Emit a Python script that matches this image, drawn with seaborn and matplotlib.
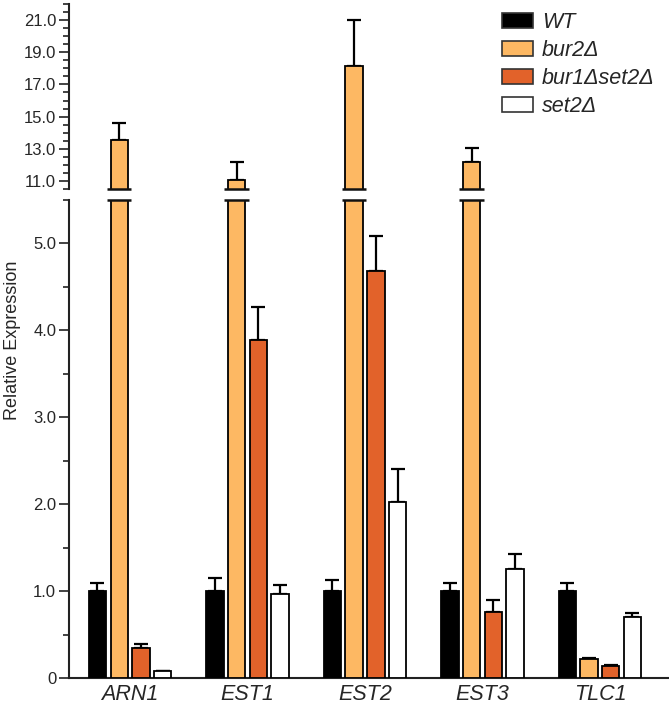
import numpy as np
import pandas as pd
import matplotlib
matplotlib.use("Agg")
import matplotlib.pyplot as plt
from matplotlib.patches import Patch
from matplotlib.ticker import MultipleLocator, FixedLocator, FixedFormatter
import seaborn as sns

# ---------------- data ----------------
genes = ["ARN1", "EST1", "EST2", "EST3", "TLC1"]
strains = ["WT", "bur2Δ", "bur1Δset2Δ", "set2Δ"]
wt_vals = [1.0, 1.0, 1.0, 1.0, 1.0]
wt_err = [0.09, 0.15, 0.13, 0.09, 0.09]
bur2_vals = [13.55, 11.05, 18.15, 12.15, 0.22]
bur2_err = [1.07, 1.10, 2.85, 0.90, 0.01]
bur1set2_vals = [0.35, 3.89, 4.68, 0.76, 0.14]
bur1set2_err = [0.04, 0.38, 0.41, 0.14, 0.01]
set2_vals = [0.08, 0.97, 2.02, 1.25, 0.70]
set2_err = [0.005, 0.10, 0.39, 0.18, 0.05]
colors = ["#000000", "#FDB863", "#E2622A", "#FFFFFF"]

upper_ticks = [11.0, 13.0, 15.0, 17.0, 19.0, 21.0]
lower_ticks = [0, 1.0, 2.0, 3.0, 4.0, 5.0]
lower_lim = (0, 5.5)
upper_lim = (10.5, 22.0)

vals = [wt_vals, bur2_vals, bur1set2_vals, set2_vals]
errs = [wt_err, bur2_err, bur1set2_err, set2_err]
rows = []
for s, v, e in zip(strains, vals, errs):
    for g, vv, ee in zip(genes, v, e):
        rows.append({"gene": g, "strain": s, "value": vv, "err": ee})
df = pd.DataFrame(rows)

# ---------------- style ----------------
sns.set_style("ticks")
plt.rcParams["font.family"] = ["Liberation Sans", "DejaVu Sans"]
spine_c = "#222222"

W, H = 669, 705
fig = plt.figure(figsize=(W / 100, H / 100), dpi=100)
ax_top = fig.add_axes([69 / W, 1 - 189 / H, 599 / W, 185 / H])
ax_bot = fig.add_axes([69 / W, 27 / H, 599 / W, 478 / H])

palette = dict(zip(strains, colors))
for ax in (ax_top, ax_bot):
    sns.barplot(data=df, x="gene", y="value", hue="strain", order=genes,
                hue_order=strains, palette=palette, saturation=1,
                width=0.74, gap=0.2,
                edgecolor="black", linewidth=1.3, errorbar=None, legend=False,
                ax=ax, zorder=3)
    ax.set_xlim(-0.52, 4.58)

ax_bot.set_ylim(*lower_lim)
ax_top.set_ylim(*upper_lim)

# error bars and break marks, placed from the drawn bars
for cont, e_list in zip(ax_bot.containers, errs):
    for patch, err in zip(cont.patches, e_list):
        xc = patch.get_x() + patch.get_width() / 2
        h = patch.get_height()
        w = patch.get_width()
        if h > lower_lim[1]:
            ax_bot.plot([patch.get_x() - 0.03, patch.get_x() + w + 0.03],
                        [lower_lim[1], lower_lim[1]], color="#111111", lw=1.8,
                        clip_on=False, zorder=5, solid_capstyle="butt")
            ax_top.plot([patch.get_x() - 0.03, patch.get_x() + w + 0.03],
                        [upper_lim[0], upper_lim[0]], color="#111111", lw=1.8,
                        clip_on=False, zorder=5, solid_capstyle="butt")
            target = ax_top
        else:
            target = ax_bot
        target.errorbar([xc], [h], yerr=[[0], [err]], fmt="none",
                        ecolor="black", elinewidth=1.6, capsize=4.8,
                        capthick=1.6, zorder=2)

# axes styling
for ax in (ax_top, ax_bot):
    sns.despine(ax=ax, top=True, right=True)
    ax.spines["left"].set_linewidth(1.5)
    ax.spines["left"].set_color(spine_c)
    ax.set_xlabel("")
    ax.set_ylabel("")
    ax.tick_params(axis="y", which="major", length=7.2, width=1.2,
                   color=spine_c, labelsize=12, pad=2)
    ax.tick_params(axis="y", which="minor", length=4.5, width=1.2,
                   color=spine_c)
    ax.yaxis.set_minor_locator(MultipleLocator(0.5))

ax_top.spines["bottom"].set_visible(False)
ax_top.tick_params(axis="x", bottom=False, labelbottom=False)
ax_top.yaxis.set_major_locator(FixedLocator(upper_ticks))
ax_top.yaxis.set_major_formatter(FixedFormatter([f"{t:.1f}" for t in upper_ticks]))

ax_bot.spines["bottom"].set_linewidth(1.5)
ax_bot.spines["bottom"].set_color(spine_c)
ax_bot.yaxis.set_major_locator(FixedLocator(lower_ticks))
ax_bot.yaxis.set_major_formatter(FixedFormatter(
    ["0" if t == 0 else f"{t:.1f}" for t in lower_ticks]))
ax_bot.tick_params(axis="x", length=0, labelsize=15.5, pad=4)
for lab in ax_bot.get_xticklabels():
    lab.set_fontstyle("italic")

fig.text(13 / W, 1 - 340 / H, "Relative Expression", rotation=90,
         ha="center", va="center", fontsize=13)

handles = [Patch(facecolor=c, edgecolor="#333333", linewidth=1.2) for c in colors]
fig.legend(handles, strains, loc="upper left",
           bbox_to_anchor=(502 / W, 1 - 12 / H), frameon=False,
           prop={"style": "italic", "size": 15.5}, handlelength=1.45,
           handleheight=0.68, handletextpad=0.4, labelspacing=0.33,
           borderpad=0, borderaxespad=0)

fig.savefig("out.png", dpi=100)
